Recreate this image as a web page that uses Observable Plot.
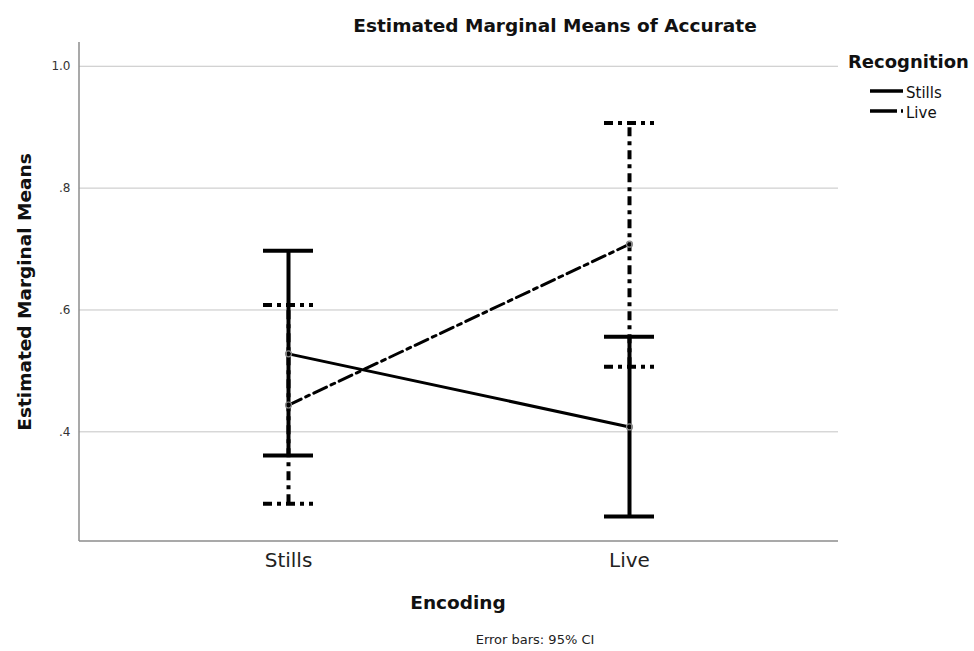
<!DOCTYPE html>
<html>
<head>
<meta charset="utf-8">
<script src="https://cdn.jsdelivr.net/npm/d3@7"></script>
<script src="https://cdn.jsdelivr.net/npm/@observablehq/plot@0.6"></script>
<style>
  body { margin: 0; background: #fff; }
  #wrap { position: relative; width: 974px; height: 651px; font-family: "DejaVu Sans", sans-serif; }
  #wrap > svg { position: absolute; left: 0; top: 0; }
</style>
</head>
<body>
<div id="wrap"></div>
<script>
// ---- data ----
const encoding = ["Stills", "Live"];
const recognition = ["Stills", "Live"];
const stillsMean = [0.528, 0.408];
const stillsLow  = [0.361, 0.261];
const stillsHigh = [0.697, 0.556];
const liveMean   = [0.444, 0.708];
const liveLow    = [0.282, 0.507];
const liveHigh   = [0.608, 0.907];
const yTicks = [0.4, 0.6, 0.8, 1.0];

const rows = (means, lows, highs, rec) =>
  encoding.map((e, i) => ({enc: e, rec, mean: means[i], low: lows[i], high: highs[i]}));
const stillsRows = rows(stillsMean, stillsLow, stillsHigh, "Stills");
const liveRows = rows(liveMean, liveLow, liveHigh, "Live");

const W = 974, H = 651;
const mL = 79, mR = 136, mT = 42, mB = 110;
const dashDot = "9,5,4,5";
const lineDashDot = "14,5,4,5";

const plot = Plot.plot({
  width: W, height: H,
  marginLeft: mL, marginRight: mR, marginTop: mT, marginBottom: mB,
  style: {fontFamily: "DejaVu Sans, sans-serif", background: "transparent"},
  x: {type: "band", domain: encoding, paddingInner: 0.853, paddingOuter: 0.5394, axis: null},
  y: {domain: [0.22, 1.039], axis: null},
  marks: [
    Plot.gridY(yTicks, {stroke: "#c4c4c4", strokeOpacity: 1, strokeWidth: 1}),
    Plot.axisY(yTicks, {tickSize: 0, tickPadding: 9, fontSize: 12, fill: "#333",
      tickFormat: d => d3.format(".1f")(d).replace(/^0/, ""), label: null}),
    Plot.axisX(encoding, {tickSize: 0, tickPadding: 11, fontSize: 20, fill: "#222", label: null}),
    // Live recognition (dash-dot) error bars
    Plot.ruleX(liveRows, {x: "enc", y1: "low", y2: "high", stroke: "#000", strokeWidth: 4, strokeDasharray: dashDot}),
    Plot.tickY(liveRows, {x: "enc", y: "low", stroke: "#000", strokeWidth: 4, strokeDasharray: dashDot}),
    Plot.tickY(liveRows, {x: "enc", y: "high", stroke: "#000", strokeWidth: 4, strokeDasharray: dashDot}),
    // Stills recognition (solid) error bars
    Plot.ruleX(stillsRows, {x: "enc", y1: "low", y2: "high", stroke: "#000", strokeWidth: 4}),
    Plot.tickY(stillsRows, {x: "enc", y: "low", stroke: "#000", strokeWidth: 4}),
    Plot.tickY(stillsRows, {x: "enc", y: "high", stroke: "#000", strokeWidth: 4}),
    // mean lines
    Plot.line(liveRows, {x: "enc", y: "mean", stroke: "#000", strokeWidth: 3, strokeDasharray: lineDashDot}),
    Plot.line(stillsRows, {x: "enc", y: "mean", stroke: "#000", strokeWidth: 3}),
    Plot.dot([...stillsRows, ...liveRows], {x: "enc", y: "mean", r: 3, stroke: "#8a8a8a", strokeWidth: 1.2, fill: "none"})
  ]
});

const wrap = document.getElementById("wrap");
wrap.appendChild(plot);

// axis lines (left and bottom frame)
const ps = d3.select(plot);
ps.append("line").attr("x1", mL).attr("x2", mL).attr("y1", mT).attr("y2", H - mB)
  .attr("stroke", "#8c8c8c").attr("stroke-width", 1.5);
ps.append("line").attr("x1", mL).attr("x2", W - mR).attr("y1", H - mB).attr("y2", H - mB)
  .attr("stroke", "#8c8c8c").attr("stroke-width", 1.5);

// text overlay and legend
const ov = d3.select(wrap).append("svg").attr("width", W).attr("height", H)
  .style("font-family", "DejaVu Sans, sans-serif");
ov.append("text").attr("x", 555).attr("y", 32).attr("text-anchor", "middle")
  .attr("font-size", 18.5).attr("font-weight", "bold").attr("fill", "#111")
  .text("Estimated Marginal Means of Accurate");
ov.append("text").attr("transform", "translate(31,292) rotate(-90)").attr("text-anchor", "middle")
  .attr("font-size", 18.5).attr("font-weight", "bold").attr("fill", "#111")
  .text("Estimated Marginal Means");
ov.append("text").attr("x", 458).attr("y", 609).attr("text-anchor", "middle")
  .attr("font-size", 18.5).attr("font-weight", "bold").attr("fill", "#111")
  .text("Encoding");
ov.append("text").attr("x", 535).attr("y", 644).attr("text-anchor", "middle")
  .attr("font-size", 13).attr("fill", "#222")
  .text("Error bars: 95% CI");
ov.append("text").attr("x", 848).attr("y", 68)
  .attr("font-size", 18).attr("font-weight", "bold").attr("fill", "#111")
  .text("Recognition");
const legendY = [91, 111];
recognition.forEach((r, i) => {
  ov.append("line").attr("x1", 870).attr("x2", 903).attr("y1", legendY[i]).attr("y2", legendY[i])
    .attr("stroke", "#000").attr("stroke-width", 3.5)
    .attr("stroke-dasharray", r === "Live" ? "27,4,4,20" : null);
  ov.append("text").attr("x", 906).attr("y", legendY[i] + 7)
    .attr("font-size", 15).attr("fill", "#111").text(r);
});
</script>
</body>
</html>
